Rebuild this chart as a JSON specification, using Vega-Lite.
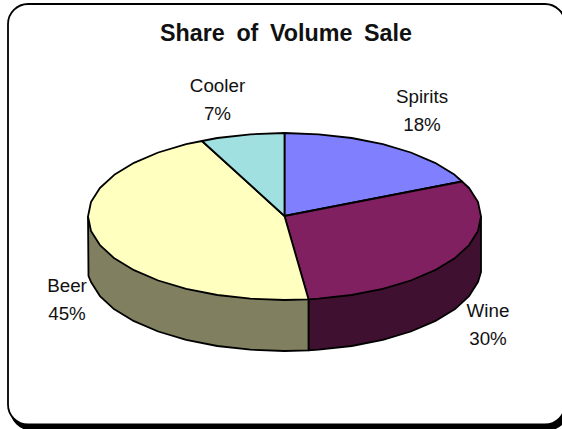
{"$schema":"https://vega.github.io/schema/vega-lite/v6.json","width":562,"height":429,"padding":0,"autosize":{"type":"none"},"background":"white","view":{"stroke":null},
"resolve":{"scale":{"fill":"independent"}},
"datasets":{
"frame":[{"part":"shadow","x":11,"x2":568,"y":7,"y2":429.5},{"part":"panel","x":8,"x2":565,"y":4,"y2":424.5}],
"side":[
{"part":"Wine side","seq":0,"x":481,"y":216.5},{"part":"Wine side","seq":1,"x":481,"y":272},{"part":"Wine side","seq":2,"x":478,"y":282},{"part":"Wine side","seq":3,"x":469.1,"y":296.1},{"part":"Wine side","seq":4,"x":454.7,"y":309.3},{"part":"Wine side","seq":5,"x":435,"y":321.2},{"part":"Wine side","seq":6,"x":410.8,"y":331.5},{"part":"Wine side","seq":7,"x":382.8,"y":339.8},{"part":"Wine side","seq":8,"x":351.7,"y":346},{"part":"Wine side","seq":9,"x":318.6,"y":349.7},{"part":"Wine side","seq":10,"x":308.5,"y":350.3},{"part":"Wine side","seq":11,"x":308.5,"y":299.3},
{"part":"Beer side","seq":0,"x":308.5,"y":299.3},{"part":"Beer side","seq":1,"x":308.5,"y":350.3},{"part":"Beer side","seq":2,"x":284.5,"y":351},{"part":"Beer side","seq":3,"x":250.4,"y":349.7},{"part":"Beer side","seq":4,"x":217.3,"y":346},{"part":"Beer side","seq":5,"x":186.2,"y":339.8},{"part":"Beer side","seq":6,"x":158.2,"y":331.5},{"part":"Beer side","seq":7,"x":134,"y":321.2},{"part":"Beer side","seq":8,"x":114.3,"y":309.3},{"part":"Beer side","seq":9,"x":99.9,"y":296.1},{"part":"Beer side","seq":10,"x":91,"y":282},{"part":"Beer side","seq":11,"x":88.5,"y":276},{"part":"Beer side","seq":12,"x":88,"y":216.5}
],
"top":[
{"part":"Spirits","seq":0,"x":284.5,"y":216},{"part":"Spirits","seq":1,"x":284.5,"y":133},{"part":"Spirits","seq":2,"x":318.6,"y":134.3},{"part":"Spirits","seq":3,"x":351.7,"y":138},{"part":"Spirits","seq":4,"x":382.8,"y":144.2},{"part":"Spirits","seq":5,"x":410.8,"y":152.5},{"part":"Spirits","seq":6,"x":435,"y":162.8},{"part":"Spirits","seq":7,"x":454.7,"y":174.8},{"part":"Spirits","seq":8,"x":462,"y":181.5},{"part":"Spirits","seq":9,"x":284.5,"y":216},
{"part":"Wine","seq":0,"x":284.5,"y":216},{"part":"Wine","seq":1,"x":462,"y":181.5},{"part":"Wine","seq":2,"x":469.1,"y":188},{"part":"Wine","seq":3,"x":478,"y":202},{"part":"Wine","seq":4,"x":481,"y":216.5},{"part":"Wine","seq":5,"x":478,"y":231},{"part":"Wine","seq":6,"x":469.1,"y":245.1},{"part":"Wine","seq":7,"x":454.7,"y":258.3},{"part":"Wine","seq":8,"x":435,"y":270.2},{"part":"Wine","seq":9,"x":410.8,"y":280.5},{"part":"Wine","seq":10,"x":382.8,"y":288.8},{"part":"Wine","seq":11,"x":351.7,"y":295},{"part":"Wine","seq":12,"x":318.6,"y":298.7},{"part":"Wine","seq":13,"x":308.5,"y":299.3},{"part":"Wine","seq":14,"x":284.5,"y":216},
{"part":"Beer","seq":0,"x":284.5,"y":216},{"part":"Beer","seq":1,"x":308.5,"y":299.3},{"part":"Beer","seq":2,"x":284.5,"y":300},{"part":"Beer","seq":3,"x":250.4,"y":298.7},{"part":"Beer","seq":4,"x":217.3,"y":295},{"part":"Beer","seq":5,"x":186.2,"y":288.8},{"part":"Beer","seq":6,"x":158.2,"y":280.5},{"part":"Beer","seq":7,"x":134,"y":270.2},{"part":"Beer","seq":8,"x":114.3,"y":258.3},{"part":"Beer","seq":9,"x":99.9,"y":245.1},{"part":"Beer","seq":10,"x":91,"y":231},{"part":"Beer","seq":11,"x":88,"y":216.5},{"part":"Beer","seq":12,"x":91,"y":202},{"part":"Beer","seq":13,"x":99.9,"y":188},{"part":"Beer","seq":14,"x":114.3,"y":174.8},{"part":"Beer","seq":15,"x":134,"y":162.8},{"part":"Beer","seq":16,"x":158.2,"y":152.5},{"part":"Beer","seq":17,"x":186.2,"y":144.2},{"part":"Beer","seq":18,"x":202,"y":141},{"part":"Beer","seq":19,"x":284.5,"y":216},
{"part":"Cooler","seq":0,"x":284.5,"y":216},{"part":"Cooler","seq":1,"x":202,"y":141},{"part":"Cooler","seq":2,"x":217.3,"y":138},{"part":"Cooler","seq":3,"x":250.4,"y":134.3},{"part":"Cooler","seq":4,"x":284.5,"y":133},{"part":"Cooler","seq":5,"x":284.5,"y":216}
],
"labels":[{"label":"Cooler\n7%","x":217.5,"y":92},{"label":"Spirits\n18%","x":422,"y":103},{"label":"Beer\n45%","x":67,"y":292},{"label":"Wine\n30%","x":488,"y":317}],
"title":[{"label":"Share\u2002of\u2002Volume\u2002Sale","x":286,"y":41}]
},
"encoding":{"x":{"field":"x","type":"quantitative","axis":null,"scale":{"domain":[0,562],"nice":false,"zero":false}},"y":{"field":"y","type":"quantitative","axis":null,"scale":{"domain":[429,0],"nice":false,"zero":false}}},
"layer":[
{"data":{"name":"frame"},"mark":{"type":"rect","cornerRadius":20,"strokeWidth":1.8,"stroke":"black"},"encoding":{"x2":{"field":"x2"},"y2":{"field":"y2"},"fill":{"field":"part","type":"nominal","legend":null,"scale":{"domain":["shadow","panel"],"range":["#000000","#ffffff"]}}}},
{"data":{"name":"side"},"mark":{"type":"line","stroke":"black","strokeWidth":1.8,"strokeJoin":"round"},"encoding":{"order":{"field":"seq"},"fill":{"field":"part","type":"nominal","legend":null,"scale":{"domain":["Wine side","Beer side"],"range":["#401030","#808060"]}}}},
{"data":{"name":"top"},"mark":{"type":"line","stroke":"black","strokeWidth":1.8,"strokeJoin":"round"},"encoding":{"order":{"field":"seq"},"fill":{"field":"part","type":"nominal","legend":null,"scale":{"domain":["Spirits","Wine","Beer","Cooler"],"range":["#8080ff","#802060","#ffffc0","#a0e0e0"]}}}},
{"data":{"name":"labels"},"mark":{"type":"text","font":"Liberation Sans","fontSize":18.8,"lineBreak":"\n","lineHeight":27.5,"align":"center","baseline":"alphabetic","color":"#111111"},"encoding":{"text":{"field":"label"}}},
{"data":{"name":"title"},"mark":{"type":"text","font":"Liberation Sans","fontSize":23.3,"fontWeight":"bold","align":"center","baseline":"alphabetic","color":"#111111"},"encoding":{"text":{"field":"label"}}}
]}
